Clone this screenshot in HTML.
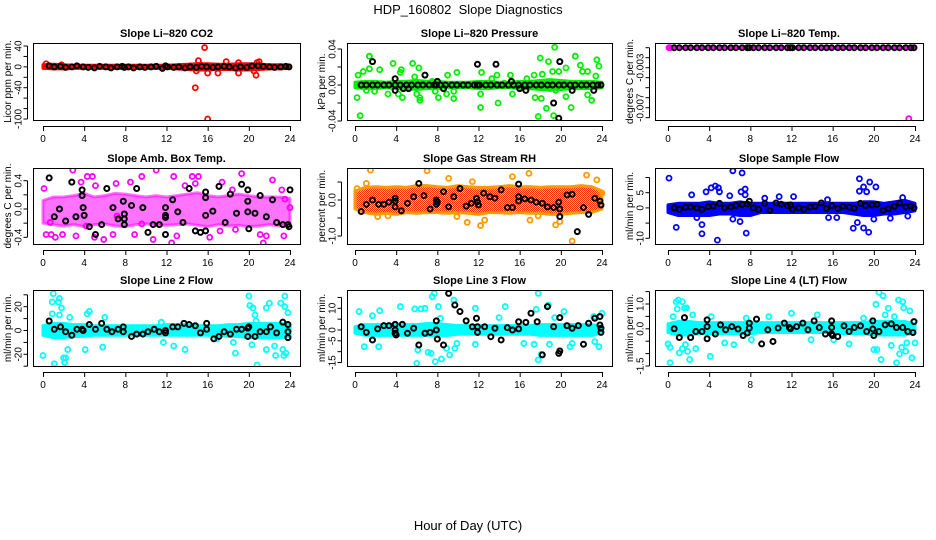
<!DOCTYPE html>
<html><head><meta charset="utf-8"><style>
body{margin:0;background:#fff;}
svg{display:block;font-family:"Liberation Sans",sans-serif;}
</style></head><body>
<svg id="c" width="936" height="540" viewBox="0 0 936 540">
<defs><pattern id="rhpat" width="2" height="2" patternUnits="userSpaceOnUse"><rect width="2" height="2" fill="#ffd000"/><rect width="1" height="1" fill="#ff3000"/><rect x="1" y="1" width="1" height="1" fill="#ff3000"/></pattern></defs>
<text x="468" y="14" text-anchor="middle" font-size="13">HDP_160802&#160; Slope Diagnostics</text>
<text x="468" y="530" text-anchor="middle" font-size="13">Hour of Day (UTC)</text>
</svg>
<script>
const hours = [0,1,2,3,4,5,6,7,8,9,10,11,12,13,14,15,16,17,18,19,20,21,22,23,24];
const xTicks = [0,4,8,12,16,20,24];
const baseHours = [0.6,1.1,1.7,2.2,2.8,3.3,3.9,4.4,5.0,5.5,6.1,6.6,7.2,7.7,7.9,8.3,8.8,9.4,9.9,10.5,11.0,11.6,11.9,12.1,12.7,13.2,13.8,14.3,14.9,15.4,15.9,16.5,17.0,17.6,18.1,18.7,19.2,19.8,20.3,20.9,21.4,22.0,22.5,23.1,23.6,23.9];

// P1 CO2
const p1BandLo = [-3,-4,-4,-3,-3,-3,-3,-3,-3,-3,-3,-3,-3,-4,-5,-6,-6,-5,-5,-6,-6,-5,-4,-4,-3];
const p1BandHi = [4,5,4,3,3,3,3,3,3,3,3,3,3,4,5,6,6,5,5,6,6,5,4,4,3];
const p1X = [15.7,14.8,16.0,15.1,16.0,17.0,17.8,19.0,19.0,20.7,20.8,0.3,1.8,15.4,14.9,20.5,21.0];
const p1Y = [37,-40,-100,12,-12,-12,10,8,-12,-16,8,6,4,3,-8,-8,10];
const p1BlackX = baseHours;
const p1BlackY = [2,0,1,-1,0,2,0,-1,-2,1,0,-2,0,1,-1,0,-2,0,-1,0,1,-3,2,0,-1,0,-2,0,-1,1,0,-1,0,1,0,-2,0,-1,2,2,1,0,-1,0,1,0];

// P2 Pressure
const p2BandLo = [-0.003,-0.004,-0.004,-0.003,-0.004,-0.004,-0.005,-0.004,-0.004,-0.003,-0.003,-0.003,-0.004,-0.004,-0.003,-0.003,-0.004,-0.004,-0.005,-0.006,-0.005,-0.004,-0.004,-0.004,-0.003];
const p2BandHi = [0.003,0.004,0.004,0.003,0.004,0.004,0.005,0.004,0.004,0.003,0.003,0.003,0.004,0.004,0.003,0.003,0.004,0.004,0.005,0.006,0.005,0.004,0.004,0.004,0.003];
const p2X = [0.2,0.5,0.3,0.8,1.1,1.4,1.4,1.9,2.4,3.2,3.7,4.2,4.4,4.5,4.6,5.6,5.8,6.0,6.3,6.2,6.3,7.5,7.8,8.1,8.9,9.0,9.6,9.6,9.9,12.2,12.2,12.3,13.3,13.8,13.9,14.5,15.1,15.3,16.7,17.4,17.5,17.8,18.0,18.1,18.2,18.6,18.8,19.2,19.3,19.4,19.5,19.8,20.5,20.5,21.0,21.4,21.9,22.1,22.6,22.6,23.0,23.5,23.7,23.4];
const p2Y = [-0.014,-0.034,0.011,0.015,-0.006,0.032,0.018,-0.007,0.017,-0.010,0.024,-0.010,0.014,0.017,-0.014,0.024,0.009,-0.010,-0.014,0.019,-0.017,0.004,-0.007,-0.014,-0.010,0.011,-0.007,-0.015,0.014,-0.010,-0.025,0.014,0.007,0.011,-0.020,0.002,0.011,-0.010,0.007,0.011,-0.014,-0.035,0.030,-0.015,0.012,-0.026,0.026,0.015,-0.034,0.042,-0.006,0.015,0.019,-0.013,-0.025,0.032,0.022,0.015,0.015,-0.011,-0.017,0.028,0.021,0.010];
const p2BlackX = baseHours.concat([1.7,3.9,3.9,4.7,5.2,6.8,8.0,8.6,11.9,13.7,15.2,16.0,16.6,19.3,19.8,19.9,21.1,23.2]);
const p2BlackY = baseHours.map(()=>0).concat([0.026,0.007,-0.006,-0.004,-0.004,0.011,0.004,-0.004,0.023,0.023,0.004,-0.004,-0.006,-0.020,-0.037,0.026,-0.006,-0.006]);

// P3 Temp
const p3BandLo = [-0.001,-0.001,-0.001,-0.001,-0.001,-0.001,-0.001,-0.001,-0.001,-0.001,-0.001,-0.001,-0.001,-0.001,-0.001,-0.001,-0.001,-0.001,-0.001,-0.001,-0.001,-0.001,-0.001,-0.001,-0.001];
const p3BandHi = p3BandLo;
const p3X = [0.1,0.2,23.4];
const p3Y = [-0.001,-0.001,-0.0081];
const p3BlackX = baseHours;
const p3BlackY = baseHours.map(()=>-0.001);

// P4 Amb box temp
const p4BandLo = [-0.2,-0.22,-0.24,-0.22,-0.25,-0.22,-0.21,-0.24,-0.25,-0.22,-0.21,-0.23,-0.23,-0.22,-0.21,-0.23,-0.25,-0.22,-0.24,-0.23,-0.25,-0.24,-0.22,-0.24,-0.22];
const p4BandHi = [0.12,0.17,0.17,0.19,0.22,0.17,0.19,0.22,0.21,0.19,0.17,0.19,0.17,0.19,0.21,0.23,0.19,0.17,0.19,0.21,0.19,0.17,0.17,0.17,0.15];
const p4X = [2.9,11.0,0.1,0.3,0.8,1.2,1.9,3.2,3.7,4.3,4.8,5.0,5.9,6.8,7.1,8.5,8.9,9.6,10.7,12.5,12.7,13.0,13.8,14.5,15.1,16.2,17.4,19.3,21.1,21.4,21.7,22.3,23.5,24.0,14.8,17.2,18.7,23.4,23.2,5.1,7.2,18.4,4.2,0.7,9.6];
const p4Y = [0.55,0.55,0.29,-0.36,-0.36,-0.40,-0.36,-0.38,0.38,0.46,0.46,-0.40,-0.43,-0.36,0.36,0.38,-0.36,0.46,-0.43,-0.48,0.46,-0.38,0.33,0.46,0.46,-0.40,0.38,0.50,-0.36,-0.48,-0.38,0.41,0.14,0.02,0.36,-0.31,-0.29,-0.38,0.27,0.33,-0.10,0.27,-0.24,-0.19,-0.21];
const p4BlackX = [0.6,1.1,1.6,2.2,2.8,3.2,3.8,3.8,3.9,4.0,4.5,5.1,5.7,6.2,6.8,7.3,7.8,7.9,7.9,7.9,8.6,9.1,9.7,10.2,10.7,11.3,11.9,11.9,11.9,11.9,12.6,13.1,13.6,14.2,14.8,15.3,15.8,15.8,15.8,15.8,16.5,17.1,17.7,18.2,18.8,19.3,19.9,19.9,19.9,20.0,20.6,21.1,21.7,22.3,22.7,23.3,23.8,23.9,24.0];
const p4BlackY = [0.44,-0.11,0.0,-0.17,0.38,-0.11,0.27,0.19,0.02,-0.09,-0.25,-0.36,-0.22,0.29,0.02,-0.14,0.11,-0.07,-0.14,-0.22,0.05,0.29,0.02,-0.33,-0.22,-0.22,0.02,-0.09,-0.12,-0.36,0.13,-0.04,-0.19,0.29,-0.31,-0.33,0.24,0.16,-0.09,-0.31,-0.03,0.32,-0.19,0.21,-0.06,0.35,0.27,0.11,-0.04,-0.28,-0.06,0.19,-0.11,0.13,-0.19,-0.22,-0.22,-0.25,0.27];

// P5 Gas stream RH
const p5BandLo = [-0.25,-0.35,-0.4,-0.37,-0.4,-0.35,-0.37,-0.35,-0.35,-0.37,-0.35,-0.37,-0.4,-0.35,-0.35,-0.37,-0.35,-0.37,-0.37,-0.4,-0.4,-0.37,-0.35,-0.35,-0.25];
const p5BandHi = [0.25,0.35,0.37,0.35,0.37,0.35,0.4,0.4,0.37,0.35,0.4,0.37,0.35,0.35,0.37,0.4,0.37,0.37,0.35,0.37,0.37,0.37,0.4,0.37,0.25];
const p5X = [1.5,7.0,16.9,22.5,10.9,12.2,21.1,19.5,19.9,2.2,3.2,9.9,12.6,17.0,17.8,15.3,9.1,11.4,1.1,23.5,0.2,24.0];
const p5Y = [0.83,0.81,0.74,0.69,-0.62,-0.71,-1.14,-0.69,-0.60,-0.46,-0.44,-0.46,-0.56,-0.56,-0.44,0.65,0.60,0.51,0.46,0.56,0.32,0.19];
const p5BlackX = [0.6,1.1,1.7,2.3,2.8,3.3,3.9,3.9,3.9,4.5,5.1,5.7,6.2,6.7,7.3,7.9,8.0,7.9,8.6,9.1,9.6,10.2,10.8,11.3,11.8,11.9,12.0,12.5,13.1,13.6,14.2,14.8,15.3,15.9,15.9,15.9,16.5,17.1,17.6,18.2,18.7,19.3,19.8,19.9,19.9,20.6,21.1,21.6,22.2,22.7,23.3,23.8,23.9];
const p5BlackY = [-0.32,-0.12,0.0,-0.12,-0.12,-0.06,0.05,-0.03,-0.19,-0.30,-0.09,0.09,0.46,0.12,-0.25,0.0,-0.06,-0.12,0.23,-0.19,0.09,0.32,-0.17,-0.09,0.05,-0.05,-0.14,0.19,0.09,0.05,0.28,-0.21,-0.21,0.44,0.09,-0.03,0.03,0.0,-0.06,-0.09,-0.19,-0.21,-0.06,-0.25,-0.46,0.14,0.16,-0.88,-0.21,-0.40,0.05,-0.03,-0.14];

// P6 Sample flow
const p6BandLo = [-1.5,-2.5,-2.5,-2.5,-2.5,-2,-2,-2.5,-2.5,-1.5,-1.5,-1.5,-1.5,-1.5,-1.5,-1.5,-1.5,-1.5,-2,-2.5,-2.5,-2,-2,-1.5,-1];
const p6BandHi = [1,1.5,1.5,1.5,2,1.5,1.5,2,1.5,1.5,1.5,1.5,1.5,1.5,1.5,1.5,1.5,1.5,1.5,2,2,1.5,2,2.5,1.5];
const p6X = [0.1,0.8,3.3,3.3,3.7,4.2,4.6,4.9,4.8,5.0,6.0,6.3,6.3,7.0,7.2,7.1,7.5,7.6,7.5,9.4,10.8,12.2,15.5,15.6,18.0,18.4,18.6,18.6,19.0,19.0,19.3,19.5,19.6,20.0,20.2,21.6,22.8,23.3,2.3,2.8,16.4];
const p6Y = [9.8,-6.4,-5.5,-8.5,5.3,6.6,7.2,6.6,-10.6,5.3,4.0,12.2,-3.7,-4.5,11.5,5.3,6.2,-8.3,4.3,3.2,3.7,3.7,2.7,-3.2,-6.7,-4.8,9.6,5.5,6.9,-6.6,5.3,-8.0,8.5,-3.7,6.9,-3.4,3.4,-2.7,4.3,-3.2,-3.2];
const p6BlackX = baseHours;
const p6BlackY = [0,-0.5,0.2,0.3,0,-0.5,0.4,0.6,1.5,0,0.3,0.8,1.1,1.3,2.2,0,-0.5,1.5,-0.8,1.6,1.2,0.8,1.0,-0.5,0,-0.5,0.3,0.5,1.6,-0.2,0.8,-0.2,0.5,0.2,-0.1,1.5,0.8,1.0,1.1,-0.8,-0.3,0.5,1.6,0.3,0.6,0.0];

// P7 Line 2 flow
const p7BandLo = [-4,-6,-6,-5,-5,-4,-4,-4,-4,-4,-4,-4,-4,-4,-4,-4,-4,-4,-5,-5,-6,-6,-6,-6,-5];
const p7BandHi = [4,6,6,5,5,4,4,4,4,4,4,4,5,5,5,4,4,4,5,5,6,6,6,6,5];
const p7X = [0.0,0.9,0.9,1.0,1.1,1.5,1.6,1.8,1.6,2.0,2.1,2.2,2.4,2.6,4.1,4.3,4.5,5.8,6.0,11.5,11.7,12.7,13.8,16.9,18.5,18.7,20.0,20.1,20.4,20.6,20.7,20.3,20.8,21.7,21.7,22.0,22.1,22.5,22.6,23.1,23.3,23.4,23.5,23.5,23.6,23.8];
const p7Y = [-21,14,24,31,-28,24,27,19,13,-23,-27,-23,-16,11,-16,14,16,-14,11,7,-10,-13,-16,-7,-10,-19,29,21,19,13,8,-12,-29,19,-16,23,4,-13,-21,23,-16,-21,29,20,-19,15];
const p7BlackX = [0.6,1.1,1.7,2.2,2.8,3.3,3.8,3.9,4.5,5.1,5.7,6.2,6.7,7.3,7.8,7.8,8.6,9.1,9.7,10.2,10.8,11.3,11.9,11.9,12.6,13.1,13.7,14.2,14.8,15.3,15.9,15.9,16.6,17.1,17.6,18.2,18.8,19.3,19.9,19.9,20.0,20.6,21.1,21.7,22.1,22.7,23.3,23.8,23.8,23.8];
const p7BlackY = [8,1,3,-1,-4,1,1,0,5,1,6,1,-1,1,3,-1,-5,-3,-3,-1,1,-1,0,-2,3,3,6,5,4,-2,6,1,-7,-5,-1,-3,1,1,2,-5,3,-5,-1,-1,3,-2,7,5,-1,-6];

// P8 Line 3 flow
const p8BandLo = [-1.5,-2.5,-2.5,-2.5,-2.5,-2.5,-2.5,-2.5,-2.5,-2.5,-2,-2,-2,-2,-2,-2,-2,-2,-2.5,-2.5,-2.5,-2.5,-2.5,-2.5,-1.5];
const p8BandHi = [1.5,2.5,2.5,2.5,2.5,2.5,2.5,3,3,2.5,2,2,2,2,2,2,2,2,2.5,2.5,2.5,2.5,2.5,2.5,1.5];
const p8X = [0.4,0.9,1.7,2.3,2.4,4.4,5.8,6.0,6.1,6.4,6.8,7.1,7.4,7.5,7.7,7.8,8.1,8.3,8.4,8.9,9.2,9.6,9.7,9.9,11.7,11.7,14.0,14.6,16.4,17.4,17.6,17.8,17.8,18.1,18.8,18.9,19.4,20.3,20.9,21.1,23.3,23.7,24.0,23.2];
const p8Y = [8.5,-7.7,6.6,-7.7,8.9,10.8,9.7,-15.4,-9.2,9.7,10.0,-10.3,-10.8,15.4,16.9,-14.6,10.8,5.4,-13.4,-8.5,-11.5,13.8,-8.5,-6.2,10.0,-6.6,5.7,10.8,-6.2,-6.6,9.5,16.9,-13.8,-11.2,11.5,-6.6,5.7,8.5,-7.7,-6.2,-5.4,-7.7,7.7,6.2];
const p8BlackX = [0.6,1.1,1.7,2.2,2.8,3.3,3.9,3.9,3.9,4.0,4.6,5.1,5.7,6.2,6.8,7.3,7.9,7.9,8.0,8.6,9.1,9.7,10.2,10.8,11.4,11.8,11.9,11.9,12.6,13.2,13.6,14.2,14.8,15.3,15.9,15.9,16.6,17.1,17.7,18.2,18.7,19.3,19.8,19.9,19.9,20.6,21.1,21.7,22.2,22.7,23.3,23.8,23.8,23.9,23.9];
const p8BlackY = [1.5,-1.1,-4.6,0.5,2.0,2.0,2.6,0,-1.5,-2.3,2.6,-1.5,0.8,-6.9,-1.5,-1.1,0,4.2,-4.2,-6.9,16.9,11.5,8.5,4.2,1.5,5.4,1.5,-1.1,1.5,-3.1,0.8,-4.6,1.1,0,3.8,0.5,3.5,7.7,3.8,-11.5,10.8,1.5,-10.8,5.7,-9.7,2.0,0.8,2.0,-6.6,3.1,5.4,6.2,2.3,0.8,-1.1];

// P9 Line 4 (LT) flow
const p9BandLo = [-0.15,-0.25,-0.25,-0.2,-0.2,-0.2,-0.2,-0.2,-0.2,-0.15,-0.15,-0.15,-0.15,-0.15,-0.15,-0.15,-0.15,-0.2,-0.2,-0.2,-0.25,-0.25,-0.25,-0.25,-0.15];
const p9BandHi = [0.2,0.3,0.3,0.25,0.25,0.25,0.25,0.25,0.25,0.25,0.25,0.25,0.25,0.25,0.25,0.25,0.25,0.25,0.25,0.25,0.3,0.3,0.3,0.3,0.2];
const p9X = [0.2,0.0,0.2,0.5,0.8,1.0,0.9,1.1,1.4,1.4,1.6,1.7,1.8,1.9,2.1,2.4,2.7,4.1,4.2,5.5,6.4,7.6,8.1,9.8,12.0,13.9,14.5,16.1,17.6,19.0,20.0,20.2,20.3,20.5,20.7,20.9,21.1,21.4,21.7,22.0,22.2,22.4,22.5,22.7,22.8,22.9,23.1,23.5,23.7,24.0,23.2];
const p9Y = [-1.37,-0.61,-0.75,0.49,1.09,1.16,0.8,-0.97,1.09,-0.8,0.83,-0.64,0.85,-0.91,-1.24,0.56,-0.8,-1.11,0.49,-0.57,-0.64,0.43,-0.44,0.49,0.63,-0.44,0.56,-0.44,-0.61,0.43,-0.84,0.99,-0.84,1.47,-1.24,1.33,0.56,0.83,-0.67,0.49,-1.37,1.16,-1.01,-0.75,1.09,0.85,-0.91,0.72,-1.17,-0.57,-0.57];
const p9BlackX = [0.6,1.1,1.6,2.2,2.7,3.3,3.8,3.8,3.8,4.6,5.1,5.6,6.2,6.8,7.3,7.7,7.9,7.9,8.6,9.1,9.7,10.2,10.7,11.3,11.8,11.9,12.5,13.1,13.6,14.2,14.7,15.3,15.9,15.9,15.9,16.0,16.5,17.1,17.6,18.1,18.7,19.3,19.9,19.9,20.0,20.5,21.1,21.7,22.2,22.8,23.3,23.8,23.9];
const p9BlackY = [0.0,-0.35,0.45,-0.35,-0.11,-0.11,0.36,-0.4,0.09,-0.21,0.16,-0.04,0.09,-0.01,-0.27,-0.17,0.23,0.03,0.39,-0.61,-0.04,-0.51,0.03,0.23,0.05,0.0,0.09,0.23,-0.04,0.32,0.05,-0.21,0.32,0.05,-0.21,-0.27,-0.31,0.12,-0.11,0.05,0.12,-0.11,0.32,-0.01,-0.27,-0.11,0.16,0.2,0.05,0.05,-0.11,-0.15,0.29];

const NS='http://www.w3.org/2000/svg';
const svg=document.getElementById('c');
function mk(tag,attrs,parent){const e=document.createElementNS(NS,tag);for(const k in attrs)e.setAttribute(k,attrs[k]);(parent||svg).appendChild(e);return e;}

const cols=[{l:33,r:300,x0:43,x24:290},{l:347,r:612,x0:355,x24:602},{l:655,r:923,x0:668,x24:915}];
const rows=[{t:43,b:120},{t:168,b:244},{t:290,b:366}];
const panels=[
 {key:'co2',title:'Slope Li\u2013820 CO2',ylab:'Licor ppm per min.',c:0,r:0,v1:40,p1:46,v2:-100,p2:119,ticks:[40,20,0,-20,-40,-60,-80,-100],labels:{'40':'40','0':'0','-40':'-40','-100':'-100'},color:'#ff0000',lo:p1BandLo,hi:p1BandHi,x:p1X,y:p1Y,bx:p1BlackX,by:p1BlackY},
 {key:'pressure',title:'Slope Li\u2013820 Pressure',ylab:'kPa per min.',c:1,r:0,v1:0.04,p1:49,v2:-0.04,p2:121,ticks:[0.04,0.02,0,-0.02,-0.04],labels:{'0.04':'0.04','0':'0.00','-0.04':'-0.04'},color:'#00ee00',lo:p2BandLo,hi:p2BandHi,x:p2X,y:p2Y,bx:p2BlackX,by:p2BlackY},
 {key:'temp',title:'Slope Li\u2013820 Temp.',ylab:'degrees C per min.',c:2,r:0,v1:-0.001,p1:47.7,v2:-0.008,p2:117.7,ticks:[-0.001,-0.002,-0.003,-0.004,-0.005,-0.006,-0.007,-0.008],labels:{'-0.003':'-0.003','-0.007':'-0.007'},color:'#ff00ff',lo:p3BandLo,hi:p3BandHi,x:p3X,y:p3Y,bx:p3BlackX,by:p3BlackY},
 {key:'amb-temp',title:'Slope Amb. Box Temp.',ylab:'degrees C per min.',c:0,r:1,v1:0.4,p1:180.7,v2:-0.4,p2:237.3,ticks:[0.4,0.2,0,-0.2,-0.4],labels:{'0.4':'0.4','0':'0.0','-0.4':'-0.4'},color:'#ff00ff',lo:p4BandLo,hi:p4BandHi,x:p4X,y:p4Y,bx:p4BlackX,by:p4BlackY,op:0.55},
 {key:'rh',title:'Slope Gas Stream RH',ylab:'percent per min.',c:1,r:1,v1:0,p1:200,v2:-1,p2:236,ticks:[0.5,0,-0.5,-1],labels:{'0':'0.0','-1':'-1.0'},color:'#ff9900',fill:'url(#rhpat)',lo:p5BandLo,hi:p5BandHi,x:p5X,y:p5Y,bx:p5BlackX,by:p5BlackY},
 {key:'sample-flow',title:'Slope Sample Flow',ylab:'ml/min per min.',c:2,r:1,v1:5,p1:192.7,v2:-10,p2:238.3,ticks:[10,5,0,-5,-10],labels:{'5':'5','0':'0','-10':'-10'},color:'#0000ff',lo:p6BandLo,hi:p6BandHi,x:p6X,y:p6Y,bx:p6BlackX,by:p6BlackY},
 {key:'line2-flow',title:'Slope Line 2 Flow',ylab:'ml/min per min.',c:0,r:2,v1:20,p1:306.7,v2:-20,p2:354.3,ticks:[30,20,10,0,-10,-20,-30],labels:{'20':'20','0':'0','-20':'-20'},color:'#00ffff',lo:p7BandLo,hi:p7BandHi,x:p7X,y:p7Y,bx:p7BlackX,by:p7BlackY},
 {key:'line3-flow',title:'Slope Line 3 Flow',ylab:'ml/min per min.',c:1,r:2,v1:10,p1:308.3,v2:-15,p2:362.5,ticks:[15,10,5,0,-5,-10,-15],labels:{'10':'10','0':'0','-5':'-5','-15':'-15'},color:'#00ffff',lo:p8BandLo,hi:p8BandHi,x:p8X,y:p8Y,bx:p8BlackX,by:p8BlackY},
 {key:'line4-flow',title:'Slope Line 4 (LT) Flow',ylab:'ml/min per min.',c:2,r:2,v1:1,p1:304,v2:-1.5,p2:366,ticks:[1.5,1,0.5,0,-0.5,-1,-1.5],labels:{'1':'1.0','0':'0.0','-1.5':'-1.5'},color:'#00ffff',lo:p9BandLo,hi:p9BandHi,x:p9X,y:p9Y,bx:p9BlackX,by:p9BlackY}
];

panels.forEach(P=>{
  const C=cols[P.c],R=rows[P.r];
  const xs=h=>C.x0+(h/24)*(C.x24-C.x0);
  const ys=v=>P.p1+(v-P.v1)*(P.p2-P.p1)/(P.v2-P.v1);
  const g=mk('g',{});
  
  
  const cp=mk('clipPath',{id:'clip-'+P.key},g);
  mk('rect',{x:C.l,y:R.t,width:C.r-C.l,height:R.b-R.t},cp);
  const plot=mk('g',{'clip-path':'url(#clip-'+P.key+')'},g);
  let pts=[];
  hours.forEach((h,i)=>pts.push(xs(h).toFixed(1)+','+ys(P.hi[i]).toFixed(1)));
  for(let i=hours.length-1;i>=0;i--)pts.push(xs(hours[i]).toFixed(1)+','+ys(P.lo[i]).toFixed(1));
  const band=mk('polygon',{points:pts.join(' '),fill:P.fill||P.color,stroke:P.color,'stroke-width':3,'stroke-linejoin':'round','fill-opacity':P.op||1,'stroke-opacity':P.op||1},plot);
  
  
  const n=Math.min(P.x.length,P.y.length);
  for(let i=0;i<n;i++){
    const c=mk('circle',{cx:xs(P.x[i]),cy:ys(P.y[i]),r:2.5,fill:'none',stroke:P.color,'stroke-width':1.8},plot);
    
    
  }
  const m=Math.min(P.bx.length,P.by.length);
  for(let i=0;i<m;i++){
    const c=mk('circle',{cx:xs(P.bx[i]),cy:ys(P.by[i]),r:2.5,fill:'none',stroke:'#000','stroke-width':2},plot);
    
    
  }
  const box=mk('rect',{x:C.l+0.5,y:R.t+0.5,width:C.r-C.l,height:R.b-R.t,fill:'none',stroke:'#000','stroke-width':1},g);
  
  
  const t=mk('text',{x:(C.l+C.r)/2,y:R.t-6,'text-anchor':'middle','font-size':11,'font-weight':'bold'},g);
  t.textContent=P.title;
  
  
  const xa=mk('g',{},g);
  
  
  mk('line',{x1:xs(0),x2:xs(24),y1:R.b+6.5,y2:R.b+6.5,stroke:'#000'},xa);
  xTicks.forEach(v=>{
    mk('line',{x1:xs(v)+0.5,x2:xs(v)+0.5,y1:R.b+6,y2:R.b+11,stroke:'#000'},xa);
    const tx=mk('text',{x:xs(v),y:R.b+22,'text-anchor':'middle','font-size':10},xa);
    tx.textContent=v;
  });
  const ya=mk('g',{},g);
  
  
  const ax=C.l-5.5;
  mk('line',{x1:ax,x2:ax,y1:ys(P.ticks[0]),y2:ys(P.ticks[P.ticks.length-1]),stroke:'#000'},ya);
  P.ticks.forEach(v=>{
    const y=ys(v);
    mk('line',{x1:ax-4,x2:ax,y1:y,y2:y,stroke:'#000'},ya);
    const lab=P.labels[String(v)];
    if(lab!==undefined){
      const tx=mk('text',{x:0,y:0,'text-anchor':'middle','font-size':10,transform:'translate('+(ax-6)+','+y+') rotate(-90)'},ya);
      tx.textContent=lab;
    }
  });
  const yl=mk('text',{x:0,y:0,'text-anchor':'middle','font-size':10,transform:'translate('+(C.l-22)+','+((R.t+R.b)/2)+') rotate(-90)'},g);
  yl.textContent=P.ylab;
  
  
});
</script>
</body></html>
